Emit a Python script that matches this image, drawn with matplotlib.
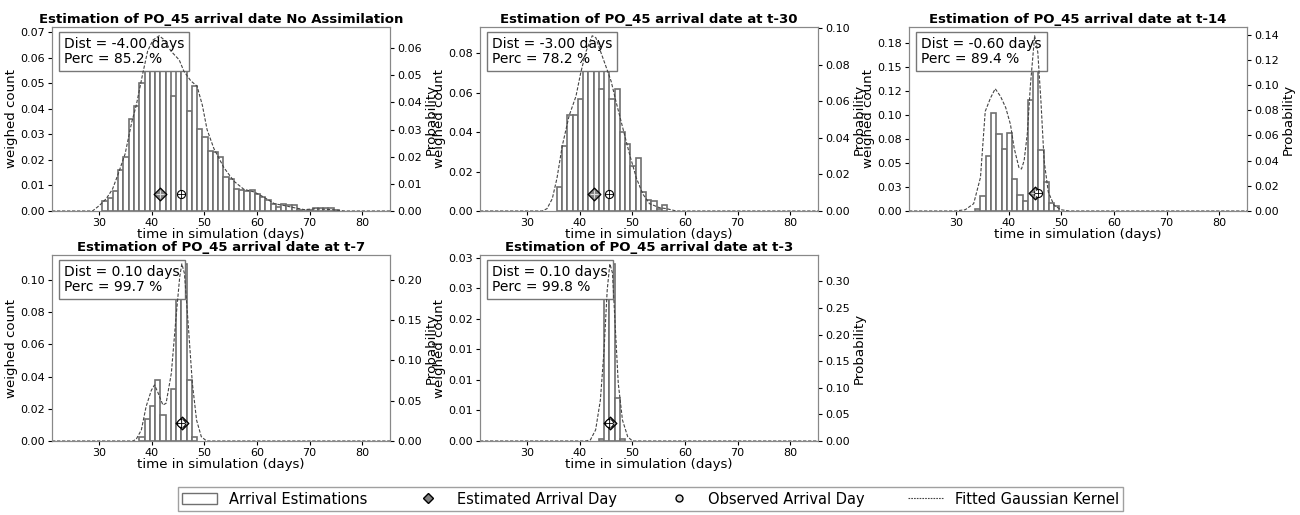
import matplotlib.pyplot as plt
import numpy as np
from matplotlib.lines import Line2D
from matplotlib.patches import Patch
from matplotlib.ticker import FormatStrFormatter

titles = ["Estimation of PO_45 arrival date No Assimilation",
          "Estimation of PO_45 arrival date at t-30",
          "Estimation of PO_45 arrival date at t-14",
          "Estimation of PO_45 arrival date at t-7",
          "Estimation of PO_45 arrival date at t-3"]
dist = [-4.00, -3.00, -0.60, 0.10, 0.10]
perc = [85.2, 78.2, 89.4, 99.7, 99.8]
observed_day = 45.6
estimated_day = [41.6, 42.6, 45.0, 45.7, 45.7]
marker_y = [0.0068, 0.0088, 0.0186, 0.011, 0.0029]

# weighed counts, 1-day bins starting at bin_start
bin_start = [30.6, 35.6, 33.6, 37.6, 43.6]
counts_noassim = [0.004, 0.005, 0.008, 0.016, 0.021, 0.036, 0.041, 0.050, 0.058, 0.064,
                  0.0686, 0.066, 0.060, 0.045, 0.062, 0.056, 0.039, 0.049, 0.032, 0.029,
                  0.0233, 0.023, 0.021, 0.0133, 0.0126, 0.0088, 0.0084, 0.008, 0.0083, 0.0065,
                  0.0055, 0.0042, 0.0029, 0.0016, 0.0029, 0.0022, 0.0022, 0.0005, 0.0, 0.0003,
                  0.001, 0.001, 0.001, 0.001, 0.0005]
counts_t30 = [0.012, 0.033, 0.049, 0.049, 0.057, 0.075, 0.089, 0.082, 0.062, 0.072,
              0.057, 0.062, 0.040, 0.034, 0.023, 0.027, 0.0095, 0.0055, 0.005, 0.001, 0.003]
counts_t14 = [0.002, 0.0155, 0.057, 0.102, 0.080, 0.065, 0.081, 0.033, 0.017, 0.010,
              0.116, 0.183, 0.064, 0.030, 0.0086, 0.005]
counts_t7 = [0.0023, 0.0137, 0.022, 0.038, 0.016, 0.0, 0.032, 0.095, 0.110, 0.038, 0.0023]
counts_t3 = [0.0004, 0.026, 0.029, 0.007, 0.0004]

# fitted gaussian kernel (probability)
kde_x_noassim = [21, 28.7, 30.0, 31.3, 32.5, 33.6, 34.9, 36.2, 37.0, 38.3, 39.2, 40.2, 41.4,
                 42.4, 43.6, 45.2, 46.1, 47.4, 48.6, 49.6, 50.5, 51.8, 53.7, 55.6, 57.5, 59.5,
                 61.4, 63.3, 65.2, 67.1, 69.0, 70.9, 72.5, 74.1, 76.7, 85.3]
kde_y_noassim = [0, 0, 0.002, 0.0045, 0.008, 0.0137, 0.021, 0.033, 0.0387, 0.051, 0.059, 0.063,
                 0.0646, 0.063, 0.059, 0.0557, 0.0515, 0.048, 0.046, 0.039, 0.030, 0.023, 0.016,
                 0.011, 0.008, 0.007, 0.005, 0.0027, 0.002, 0.0012, 0.0005, 0.0008, 0.0007,
                 0.0005, 0, 0]
kde_x_t30 = [21, 32.85, 33.75, 34.75, 35.65, 36.65, 37.95, 39.25, 40.15, 41.15, 42.35, 43.05,
             43.95, 44.95, 45.95, 46.85, 48.15, 49.45, 50.75, 51.95, 53.25, 55.15, 56.45, 58.35, 85.3]
kde_y_t30 = [0, 0, 0.0013, 0.0067, 0.018, 0.0356, 0.052, 0.0626, 0.0753, 0.087, 0.0957, 0.0946,
             0.087, 0.079, 0.0708, 0.060, 0.0455, 0.031, 0.018, 0.0094, 0.004, 0.0018, 0.0013, 0, 0]
kde_x_t14 = [21, 29.8, 31.7, 33.3, 34.6, 35.5, 36.5, 37.4, 38.4, 39.4, 40.3, 41.0, 41.9, 42.4,
             42.9, 43.5, 44.1, 44.9, 45.5, 46.1, 46.7, 47.5, 48.6, 49.9, 51.5, 85.3]
kde_y_t14 = [0, 0, 0.001, 0.0058, 0.0267, 0.079, 0.0896, 0.097, 0.091, 0.082, 0.0687, 0.050,
             0.0346, 0.0333, 0.040, 0.061, 0.100, 0.139, 0.126, 0.087, 0.040, 0.015, 0.0045,
             0.001, 0, 0]
kde_x_t7 = [21, 36.4, 37.0, 38.0, 38.9, 39.9, 40.5, 41.1, 42.1, 42.7, 43.7, 44.6, 45.3, 45.7,
            46.2, 46.9, 47.7, 48.5, 49.4, 50.4, 85.3]
kde_y_t7 = [0, 0, 0.002, 0.0137, 0.0427, 0.063, 0.0696, 0.061, 0.0447, 0.0468, 0.084, 0.154,
            0.204, 0.220, 0.208, 0.146, 0.0716, 0.026, 0.0054, 0, 0]
kde_x_t3 = [21, 41.1, 42.0, 43.0, 43.9, 44.6, 45.2, 45.7, 46.2, 46.7, 47.3, 48.1, 49.1, 50.0, 85.3]
kde_y_t3 = [0, 0, 0.002, 0.021, 0.077, 0.171, 0.284, 0.333, 0.316, 0.221, 0.1085, 0.0395,
            0.008, 0, 0]

counts = [counts_noassim, counts_t30, counts_t14, counts_t7, counts_t3]
kde_x = [kde_x_noassim, kde_x_t30, kde_x_t14, kde_x_t7, kde_x_t3]
kde_y = [kde_y_noassim, kde_y_t30, kde_y_t14, kde_y_t7, kde_y_t3]

W, H = 1300, 515
fig = plt.figure(figsize=(13, 5.15), dpi=100)

# axes boxes in pixels: left, top, right, bottom
boxes = [(52, 27, 390, 211), (480, 27, 818, 211), (909, 27, 1247, 211),
         (52, 255, 390, 441), (480, 255, 818, 441)]

frame_col = '#888888'
bar_edge = '#707070'
for i in range(5):
    l, t, r, b = boxes[i]
    ax = fig.add_axes([l / W, 1 - b / H, (r - l) / W, (b - t) / H])
    ax2 = ax.twinx()

    left_edges = bin_start[i] + np.arange(len(counts[i]))
    ax.bar(left_edges, counts[i], width=1.0, align='edge', color='white',
           edgecolor=bar_edge, linewidth=1.2, zorder=1)
    # estimated day: diamond with cross, observed day: circle with cross
    ax.scatter([estimated_day[i]], [marker_y[i]], marker='D', s=42, facecolor='#808080',
               edgecolor='black', linewidth=0.9, zorder=4)
    ax.scatter([estimated_day[i]], [marker_y[i]], marker='+', s=30, color='#dddddd',
               linewidth=0.8, zorder=5)
    ax.scatter([observed_day], [marker_y[i]], marker='o', s=34, facecolor='white',
               edgecolor='black', linewidth=0.8, zorder=4)
    ax.scatter([observed_day], [marker_y[i]], marker='+', s=34, color='black',
               linewidth=0.6, zorder=5)
    ax2.plot(kde_x[i], kde_y[i], linestyle='--', color='#444444', linewidth=0.8,
             dashes=(3, 1.5))

    ax.set_xlim(21, 85.3)
    ax.set_ylim(bottom=0)
    ax2.set_ylim(bottom=0)
    ax.yaxis.set_major_formatter(FormatStrFormatter('%.2f'))
    ax2.yaxis.set_major_formatter(FormatStrFormatter('%.2f'))

    ax.text(0.036, 0.945, f"Dist = {dist[i]:.2f} days\nPerc = {perc[i]:.1f} %",
            transform=ax.transAxes, va='top', ha='left', fontsize=10, zorder=3,
            linespacing=1.1,
            bbox=dict(boxstyle='square,pad=0.35', facecolor='white', edgecolor='#777777'))

    ax.set_title(titles[i], fontsize=9.5, fontweight='bold', pad=3)
    ax.set_xlabel("time in simulation (days)", fontsize=9.6, labelpad=0)
    ax.set_ylabel("weighed count", fontsize=9.6, labelpad=2)
    ax2.set_ylabel("Probability", fontsize=9.6, labelpad=2)
    ax.tick_params(labelsize=8, length=3, pad=2)
    ax2.tick_params(labelsize=8, length=3, pad=2)
    for a in (ax, ax2):
        for sp in a.spines.values():
            sp.set_color(frame_col)

handles = [Patch(facecolor='white', edgecolor=bar_edge, label='Arrival Estimations'),
           Line2D([], [], marker='D', linestyle='none', markersize=5, markerfacecolor='#808080',
                  markeredgecolor='black', label='Estimated Arrival Day'),
           Line2D([], [], marker='o', linestyle='none', markersize=5, markerfacecolor='#dddddd',
                  markeredgecolor='black', label='Observed Arrival Day'),
           Line2D([], [], linestyle='--', color='#444444', linewidth=0.8, dashes=(1.5, 1),
                  label='Fitted Gaussian Kernel')]
leg = fig.legend(handles=handles, loc='center', bbox_to_anchor=(0.5004, 0.031), ncol=4,
                 fontsize=10.5, frameon=True, fancybox=False, columnspacing=3.0,
                 handlelength=2.4, handletextpad=0.8, borderpad=0.3, edgecolor='#888888')

fig.savefig("out.png", dpi=100)
